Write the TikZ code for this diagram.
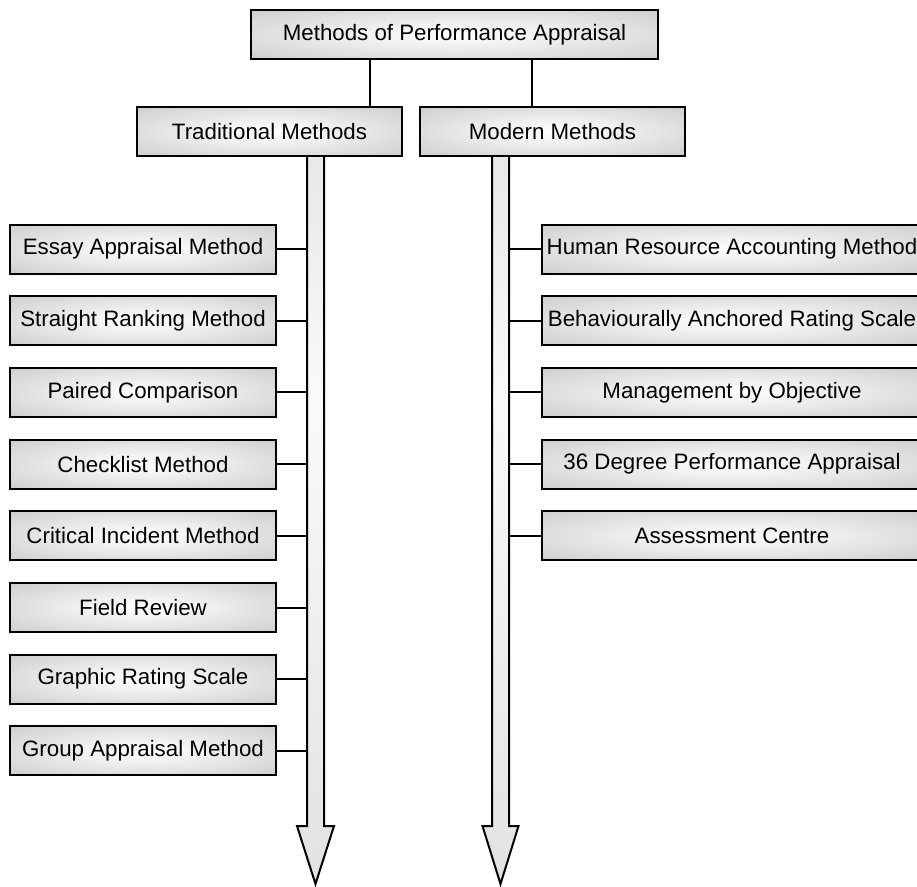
\documentclass[tikz,border=0pt]{standalone}
\usepackage{fontspec}
\setmainfont{Liberation Sans}
% soft glow in the boxes: light centre, grey rim
\pgfdeclareradialshading{boxglow}{\pgfpoint{0bp}{0bp}}{%
  color(0bp)=(white);
  color(12bp)=(white!94!black);
  color(50bp)=(white!73!black);
  color(71bp)=(white!69!black)}
% arrow fill: grey head and top, fading to white along the shaft
\pgfdeclareverticalshading{shaftfade}{100bp}{%
  color(0bp)=(white!82!black);
  color(9bp)=(white!84!black);
  color(58bp)=(white!98!black);
  color(100bp)=(white!80!black)}
\tikzset{
  methodbox/.style={draw=black, line width=2pt, shading=boxglow,
    minimum height=49pt, inner sep=0pt,
    font=\fontsize{22.3}{26}\selectfont},
  link/.style={draw=black, line width=2pt},
  flow/.style={draw=black, line width=2pt, line join=miter, shading=shaftfade}
}
\begin{document}
\begin{tikzpicture}[x=1pt,y=-1pt]
  \clip (0,0) rectangle (917,886);

  % the two downward flow arrows
  \draw[flow] (307,150) -- (307,826) -- (297,826) -- (315.5,884)
    -- (334,826) -- (324,826) -- (324,150) -- cycle;
  \draw[flow] (492,150) -- (492,826) -- (482.5,826) -- (500.5,884)
    -- (518.5,826) -- (509,826) -- (509,150) -- cycle;
  \coordinate (tshaft) at (307,0);
  \coordinate (mshaft) at (509,0);
  \coordinate (tdrop) at (370,0);
  \coordinate (mdrop) at (532,0);

  % heading and the two families
  \node[methodbox, minimum width=407pt] (root) at (454.5,34.5) {Methods of Performance Appraisal};
  \node[methodbox, minimum width=265pt] (trad) at (269.5,131.5) {Traditional Methods};
  \node[methodbox, minimum width=265pt] (mod) at (552.5,131.5) {Modern Methods};
  \draw[link] (root.south -| tdrop) -- (trad.north -| tdrop);
  \draw[link] (root.south -| mdrop) -- (mod.north -| mdrop);

  % traditional methods
  \foreach \txt [count=\i from 0] in {Essay Appraisal Method, Straight Ranking Method,
      Paired Comparison, Checklist Method, Critical Incident Method, Field Review,
      Graphic Rating Scale, Group Appraisal Method}{
    \node[methodbox, minimum width=266pt] (t\i) at (143,249+71.7*\i) {\txt};
    \draw[link] (t\i.east) -- (t\i.east -| tshaft);
  }

  % modern methods
  \foreach \txt [count=\i from 0] in {Human Resource Accounting Method,
      Behaviourally Anchored Rating Scale, Management by Objective,
      36 Degree Performance Appraisal, Assessment Centre}{
    \node[methodbox, minimum width=380pt] (m\i) at (732,249+71.7*\i) {\txt};
    \draw[link] (m\i.west) -- (m\i.west -| mshaft);
  }
\end{tikzpicture}
\end{document}
